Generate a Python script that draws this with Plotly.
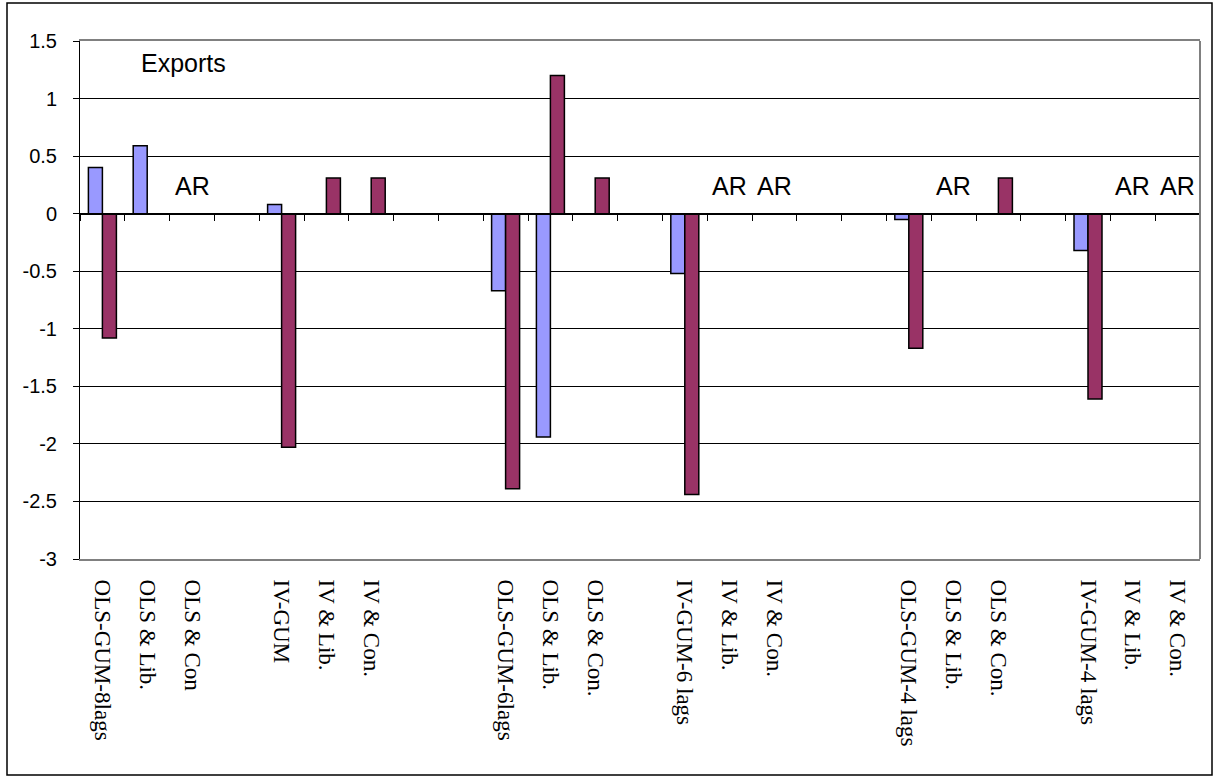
import plotly.graph_objects as go

# Categories along the x axis ("" = empty spacer slot between groups)
categories = [
    "OLS-GUM-8lags", "OLS & Lib.", "OLS & Con", "",
    "IV-GUM", "IV & Lib.", "IV & Con.", "", "",
    "OLS-GUM-6lags", "OLS & Lib.", "OLS & Con.", "",
    "IV-GUM-6 lags", "IV & Lib.", "IV & Con.", "", "",
    "OLS-GUM-4 lags", "OLS & Lib.", "OLS & Con.", "",
    "IV-GUM-4 lags", "IV & Lib.", "IV & Con.",
]

series_a = [0.40, 0.59, None, None, 0.08, None, None, None, None,
            -0.67, -1.94, None, None, -0.52, None, None, None, None,
            -0.05, None, None, None, -0.32, None, None]
series_b = [-1.08, None, None, None, -2.03, 0.31, 0.31, None, None,
            -2.39, 1.20, 0.31, None, -2.44, None, None, None, None,
            -1.17, None, 0.31, None, -1.61, None, None]

# Slots labelled "AR"
ar_slots = [2, 14, 15, 19, 23, 24]
ar_level = 0.24

y_ticks = [1.5, 1, 0.5, 0, -0.5, -1, -1.5, -2, -2.5, -3]

n = len(categories)
xs = list(range(n))
label_idx = [i for i, c in enumerate(categories) if c]

fig = go.Figure()
fig.add_trace(go.Bar(x=xs, y=series_a, marker=dict(color="#9999FF", line=dict(color="black", width=1.5)),
                     showlegend=False, hoverinfo="skip"))
fig.add_trace(go.Bar(x=xs, y=series_b, marker=dict(color="#993366", line=dict(color="black", width=1.5)),
                     showlegend=False, hoverinfo="skip"))
# carrier for the zero-crossing category axis with tick marks
fig.add_trace(go.Scatter(x=[-0.5, n - 0.5], y=[0, 0], xaxis="x2", mode="none",
                         showlegend=False, hoverinfo="skip"))

y_min, y_max = min(y_ticks), max(y_ticks)

for i in ar_slots:
    fig.add_annotation(x=i, y=ar_level, text="AR", showarrow=False,
                       font=dict(family="Liberation Sans", size=25, color="black"))

fig.add_annotation(x=1.8, y=1.31, text="Exports", showarrow=False,
                   font=dict(family="Liberation Sans", size=25, color="black"))

fig.update_layout(
    width=1219, height=778,
    margin=dict(l=80, r=19, t=41, b=219),
    paper_bgcolor="white", plot_bgcolor="white",
    barmode="group", bargap=0.375, bargroupgap=0,
    xaxis=dict(range=[-0.5, n - 0.5], tickmode="array", tickvals=label_idx,
               ticktext=[categories[i] for i in label_idx], tickangle=90,
               ticks="", showgrid=False, zeroline=False,
               showline=True, linecolor="#808080", linewidth=2, mirror=True,
               ticklabelstandoff=14,
               tickfont=dict(family="Liberation Serif", size=23, color="black")),
    xaxis2=dict(overlaying="x", anchor="free", position=(0 - y_min) / (y_max - y_min),
                range=[-0.5, n - 0.5], tickmode="array",
                tickvals=[i - 0.5 for i in range(n + 1)], ticks="outside", ticklen=6,
                tickcolor="black", tickwidth=1, showticklabels=False,
                showline=True, linecolor="black", linewidth=1,
                showgrid=False, zeroline=False),
    yaxis=dict(range=[y_min, y_max], tickmode="array", tickvals=y_ticks,
               ticktext=[f"{v:g}" for v in y_ticks],
               showgrid=True, gridcolor="black", gridwidth=1, zeroline=False,
               showline=True, linecolor="black", linewidth=1,
               ticks="outside", ticklen=6, tickcolor="black",
               ticklabelstandoff=12,
               tickfont=dict(family="Liberation Sans", size=20, color="black")),
    shapes=[
        dict(type="line", xref="paper", yref="paper", x0=1, x1=1, y0=0, y1=1,
             line=dict(color="#808080", width=2)),
        dict(type="rect", xref="paper", yref="paper",
             x0=(7 - 80) / 1120, x1=(1212 - 80) / 1120,
             y0=(559 - 775) / 518, y1=(559 - 3) / 518,
             line=dict(color="black", width=1.5)),
    ],
)

fig.write_html("out.html")
